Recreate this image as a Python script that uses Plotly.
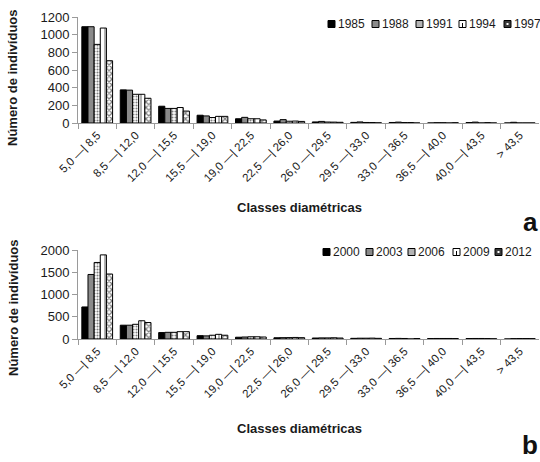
import plotly.graph_objects as go

# Diameter classes (cm)
classes = ["5,0 —| 8,5", "8,5 —| 12,0", "12,0 —| 15,5", "15,5 —| 19,0",
           "19,0 —| 22,5", "22,5 —| 26,0", "26,0 —| 29,5", "29,5 —| 33,0",
           "33,0 —| 36,5", "36,5 —| 40,0", "40,0 —| 43,5", "> 43,5"]

# Panel a: number of individuals per class, 1985-1997
years_a = ["1985", "1988", "1991", "1994", "1997"]
n1985 = [1090, 375, 190, 88, 48, 22, 12, 7, 6, 0, 5, 0]
n1988 = [1090, 372, 165, 80, 64, 38, 18, 12, 10, 3, 10, 8]
n1991 = [890, 325, 165, 62, 48, 20, 11, 6, 5, 3, 0, 0]
n1994 = [1075, 325, 175, 75, 48, 22, 10, 5, 5, 0, 4, 0]
n1997 = [705, 280, 135, 75, 35, 18, 8, 2, 0, 3, 0, 0]
series_a = [n1985, n1988, n1991, n1994, n1997]

# Panel b: number of individuals per class, 2000-2012
years_b = ["2000", "2003", "2006", "2009", "2012"]
n2000 = [720, 310, 145, 75, 40, 28, 22, 15, 12, 10, 10, 0]
n2003 = [1450, 310, 150, 70, 45, 30, 25, 18, 14, 12, 12, 8]
n2006 = [1720, 330, 150, 85, 50, 32, 25, 18, 12, 12, 12, 10]
n2009 = [1890, 410, 165, 105, 50, 35, 28, 20, 0, 12, 10, 10]
n2012 = [1460, 370, 165, 85, 45, 30, 22, 15, 10, 10, 5, 8]
series_b = [n2000, n2003, n2006, n2009, n2012]

W, H = 540, 462
FONT = "Liberation Sans, Arial, sans-serif"
AXIS_GREY = "#9a9a9a"
TEXT = "#1a1a1a"


def px(x):
    return x / W


def py(y):
    return 1 - y / H


# Fill style of each series position (same sequence in both panels)
styles = [
    dict(color="black"),
    dict(color="#8a8a8a"),
    dict(color="white", pattern=dict(shape=".", fgcolor="black", bgcolor="white",
                                     size=3, solidity=0.4)),
    dict(color="white", pattern=dict(shape="|", fgcolor="black", bgcolor="white",
                                     size=6, solidity=0.2)),
    dict(color="white", pattern=dict(shape="x", fgcolor="black", bgcolor="white",
                                     size=4, solidity=0.5)),
]

fig = go.Figure()
for names, series, xa, ya in [(years_a, series_a, "x", "y"),
                              (years_b, series_b, "x2", "y2")]:
    for i, (name, vals) in enumerate(zip(names, series)):
        marker = dict(line=dict(color="black", width=1))
        marker.update(styles[i])
        fig.add_trace(go.Bar(x=classes, y=vals, name=name, marker=marker,
                             xaxis=xa, yaxis=ya, showlegend=False))

xaxis_common = dict(type="category", tickangle=-45, tickson="boundaries",
                    ticks="outside", ticklen=5, tickcolor=AXIS_GREY,
                    showline=True, linecolor=AXIS_GREY, linewidth=1,
                    showgrid=False, zeroline=False, automargin=False,
                    tickfont=dict(family=FONT, size=11.5, color=TEXT),
                    domain=[px(78), px(539)])
yaxis_common = dict(ticks="outside", ticklen=5, tickcolor=AXIS_GREY,
                    showline=True, linecolor=AXIS_GREY, linewidth=1,
                    showgrid=False, zeroline=False, automargin=False,
                    tickfont=dict(family=FONT, size=13, color=TEXT))

fig.update_layout(
    width=W, height=H, autosize=False,
    margin=dict(l=0, r=0, t=0, b=0),
    paper_bgcolor="white", plot_bgcolor="white",
    barmode="group", bargap=0.2, bargroupgap=0,
    xaxis=dict(anchor="y", **xaxis_common),
    xaxis2=dict(anchor="y2", **xaxis_common),
    yaxis=dict(anchor="x", domain=[py(123), py(17)], range=[0, 1200],
               dtick=200, **yaxis_common),
    yaxis2=dict(anchor="x2", domain=[py(339), py(250)], range=[0, 2000],
                dtick=500, **yaxis_common),
)

annotations = []
shapes = []
title_font = dict(family=FONT, size=13, color=TEXT)

for xt_y, yt_y, letter, letter_y in [(207, 78, "a", 222), (428, 308, "b", 445)]:
    annotations.append(dict(text="<b>Classes diamétricas</b>", x=px(299), y=py(xt_y),
                            xref="paper", yref="paper", showarrow=False,
                            xanchor="center", yanchor="middle", font=title_font))
    annotations.append(dict(text="<b>Número de indivíduos</b>", x=px(13), y=py(yt_y),
                            xref="paper", yref="paper", showarrow=False,
                            textangle=-90, xanchor="center", yanchor="middle",
                            font=title_font))
    annotations.append(dict(text=f"<b>{letter}</b>", x=px(530), y=py(letter_y),
                            xref="paper", yref="paper", showarrow=False,
                            xanchor="center", yanchor="middle",
                            font=dict(family=FONT, size=26, color="#111")))

# Legend rows: small boxed swatch followed by the year
legend_fill = ["black", "#8a8a8a", "#b4b4b4", "white", "#3a3a3a"]
for names, row_y, starts in [(years_a, 24, [328, 372, 416, 459, 504]),
                             (years_b, 252, [323, 366, 408, 453, 495])]:
    for i, (name, x0) in enumerate(zip(names, starts)):
        shapes.append(dict(type="rect", xref="paper", yref="paper",
                           x0=px(x0), x1=px(x0 + 7), y0=py(row_y + 3.5), y1=py(row_y - 3.5),
                           fillcolor=legend_fill[i], line=dict(color="black", width=1)))
        if i == 3:
            shapes.append(dict(type="line", xref="paper", yref="paper",
                               x0=px(x0 + 3.5), x1=px(x0 + 3.5),
                               y0=py(row_y + 3), y1=py(row_y - 1),
                               line=dict(color="black", width=1)))
        if i == 4:
            shapes.append(dict(type="rect", xref="paper", yref="paper",
                               x0=px(x0 + 2.5), x1=px(x0 + 4.5),
                               y0=py(row_y + 1), y1=py(row_y - 1),
                               fillcolor="white", line=dict(width=0)))
        annotations.append(dict(text=name, x=px(x0 + 8), y=py(row_y),
                                xref="paper", yref="paper", showarrow=False,
                                xanchor="left", yanchor="middle",
                                font=dict(family=FONT, size=12, color=TEXT)))

fig.update_layout(annotations=annotations, shapes=shapes)
fig.write_html("out.html")
